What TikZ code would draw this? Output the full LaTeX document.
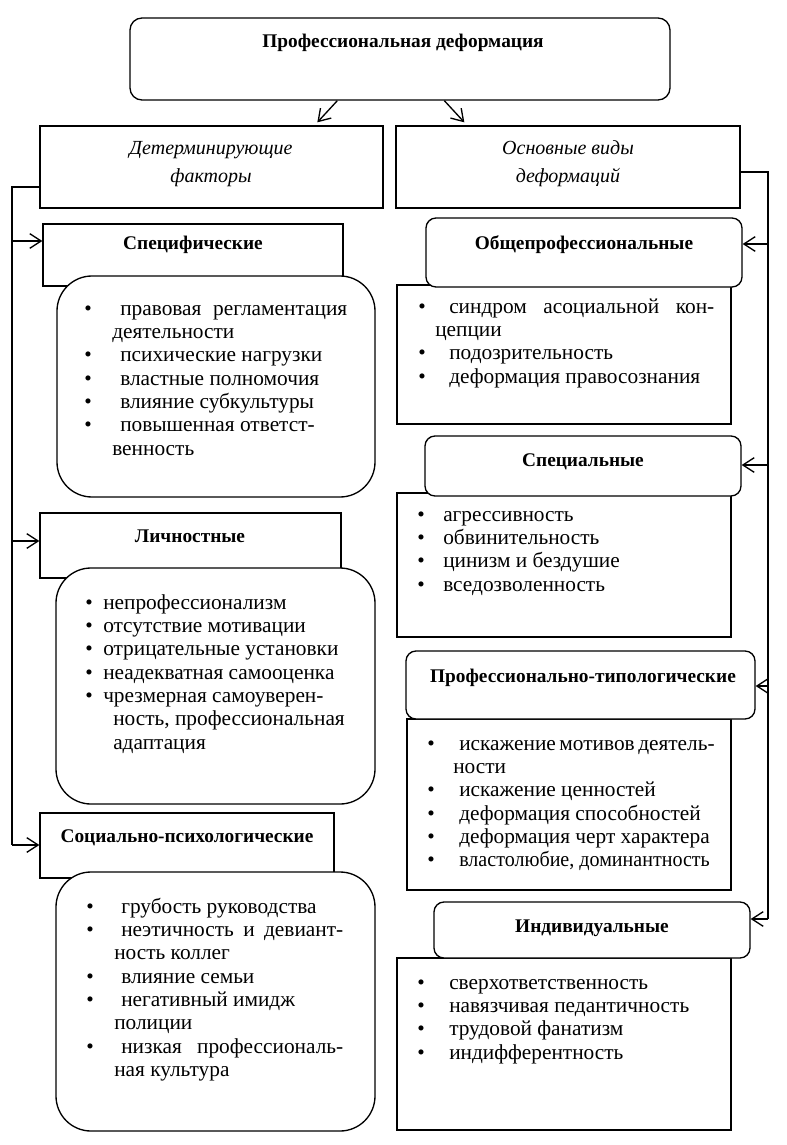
\documentclass[tikz,border=0pt]{standalone}
\usepackage{fontspec}
\usepackage{graphicx}
\setmainfont{Liberation Serif}
\usetikzlibrary{arrows.meta,fit,calc}
\newlength\px \setlength\px{0.75pt}
\newcommand\bl[2]{\makebox[#1\px][l]{\textbullet}#2}
\newcommand\tp{\rule{0pt}{12pt}}
\tikzset{
  box/.style={draw, line width=1pt, inner sep=0pt, fill=white},
  ttl/.style={font=\fontsize{14.5}{17}\selectfont\bfseries, anchor=base, inner sep=0pt},
  hdr/.style={font=\fontsize{15}{21}\selectfont\itshape, align=center, inner sep=0pt},
  lst/.style={font=\fontsize{16}{17.5}\selectfont, align=left, anchor=north west, inner sep=0pt},
  ln/.style={line width=1pt},
  arr/.style={line width=1pt, -{Straight Barb[length=8.5pt,width=11pt]}}
}
\begin{document}
\begin{tikzpicture}[x=0.75pt,y=-0.75pt]
\useasboundingbox (0,0) rectangle (786,1145);
% top
\node[box, rounded corners=12\px, fit={(130,18)(670,100)}] (top) {};
\node[ttl] (ttop) at (403,48) {Профессиональная деформация};
% headers
\node[box, fit={(40,126)(383,208)}] (det) {};
\node[hdr] (tdet) at (211,164) {Детерминирующие\\факторы};
\node[box, fit={(396,126)(740,208)}] (osn) {};
\node[hdr] (tosn) at (568,164) {Основные виды\\деформаций};
\draw[arr] ($(top.south west)+(208,0)$) -- ($(det.north west)+(278,-3)$);
\draw[arr] ($(top.south west)+(315,0)$) -- ($(osn.north west)+(69,-3)$);

% left column
\node[box, fit={(43,224)(343,286)}] (spec) {};
\node[ttl] (tspec) at (193,249) {Специфические};
\node[box, rounded corners=35\px, fit={(57,276)(375,497)}] (cspec) {};
\node[lst] (lspec) at (84,299) {\tp\bl{36}{\makebox[227\px][s]{правовая регламентация}}\\
\hspace*{28\px}деятельности\\
\bl{36}{психические нагрузки}\\
\bl{36}{властные полномочия}\\
\bl{36}{влияние субкультуры}\\
\bl{36}{повышенная ответст-}\\
\hspace*{28\px}венность};

\node[box, fit={(40,513)(341,578)}] (lich) {};
\node[ttl] (tlich) at (190,542) {Личностные};
\node[box, rounded corners=35\px, fit={(56,568)(375,804)}] (clich) {};
\node[lst] (llich) at (85,593) {\tp\bl{18}{непрофессионализм}\\
\bl{18}{отсутствие мотивации}\\
\bl{18}{отрицательные установки}\\
\bl{18}{неадекватная самооценка}\\
\bl{18}{чрезмерная самоуверен-}\\
\hspace*{28\px}ность, профессиональная\\
\hspace*{28\px}адаптация};

\node[box, fit={(40,813)(334,878)}] (soc) {};
\node[ttl] (tsoc) at (187,842) {Социально-психологические};
\node[box, rounded corners=35\px, fit={(56,872)(375,1131)}] (csoc) {};
\node[lst] (lsoc) at (86,897) {\tp\bl{35}{грубость руководства}\\
\bl{35}{\makebox[222\px][s]{неэтичность и девиант-}}\\
\hspace*{28\px}ность коллег\\
\bl{35}{влияние семьи}\\
\bl{35}{негативный имидж}\\
\hspace*{28\px}полиции\\
\bl{35}{\makebox[222\px][s]{низкая профессиональ-}}\\
\hspace*{28\px}ная культура};

% right column
\node[box, fit={(397,285)(731,424)}] (cobsh) {};
\node[box, rounded corners=10\px, fit={(426,218)(742,287)}] (obsh) {};
\node[ttl] (tobsh) at (584,249) {Общепрофессиональные};
\node[lst] (lobsh) at (418,297) {\tp\bl{31}{\makebox[265\px][s]{синдром асоциальной кон-}}\\
\hspace*{17\px}цепции\\
\bl{31}{подозрительность}\\
\bl{31}{деформация правосознания}};

\node[box, fit={(397,493)(731,637)}] (cspets) {};
\node[box, rounded corners=10\px, fit={(425,436)(741,496)}] (spets) {};
\node[ttl] (tspets) at (583,466) {Специальные};
\node[lst] (lspets) at (417,505) {\tp\bl{26}{агрессивность}\\
\bl{26}{обвинительность}\\
\bl{26}{цинизм и бездушие}\\
\bl{26}{вседозволенность}};

\node[box, fit={(407,719)(731,890)}] (cprof) {};
\node[box, rounded corners=10\px, fit={(406,651)(755,719)}] (prof) {};
\node[ttl] (tprof) at (583,682) {Профессионально-типологические};
\node[lst] (lprof) at (427,734) {\tp\bl{32}{\makebox[254\px][s]{искажение мотивов деятель-}}\\
\hspace*{26\px}ности\\
\bl{32}{искажение ценностей}\\
\bl{32}{деформация способностей}\\
\bl{32}{деформация черт характера}\\
\bl{32}{\scalebox{0.94}[1]{властолюбие, доминантность}}};

\node[box, fit={(397,958)(731,1130)}] (cind) {};
\node[box, rounded corners=10\px, fit={(434,902)(750,958)}] (ind) {};
\node[ttl] (tind) at (592,932) {Индивидуальные};
\node[lst] (lind) at (417,973) {\tp\bl{32}{сверхответственность}\\
\bl{32}{навязчивая педантичность}\\
\bl{32}{трудовой фанатизм}\\
\bl{32}{индифферентность}};

% left connector
\coordinate (lt) at (12,187);
\coordinate (lb) at (12,845);
\coordinate (a1) at (12,241);
\coordinate (a2) at (12,541);
\draw[ln] (lt -| det.west) -- (lt) -- (lb);
\draw[arr] (lb) -- (lb -| soc.west);
\draw[arr] (a1) -- (a1 -| spec.west);
\draw[arr] (a2) -- (a2 -| lich.west);

% right connector
\coordinate (rt) at (768,172);
\coordinate (rb) at (768,919);
\coordinate (b1) at (768,244);
\coordinate (b2) at (768,465);
\coordinate (b3) at (768,686);
\draw[ln] (rt -| osn.east) -- (rt) -- (rb);
\draw[arr] (rb) -- (rb -| ind.east);
\draw[arr] (b1) -- (b1 -| obsh.east);
\draw[arr] (b2) -- (b2 -| spets.east);
\draw[arr] (b3) -- (b3 -| prof.east);
\end{tikzpicture}
\end{document}
